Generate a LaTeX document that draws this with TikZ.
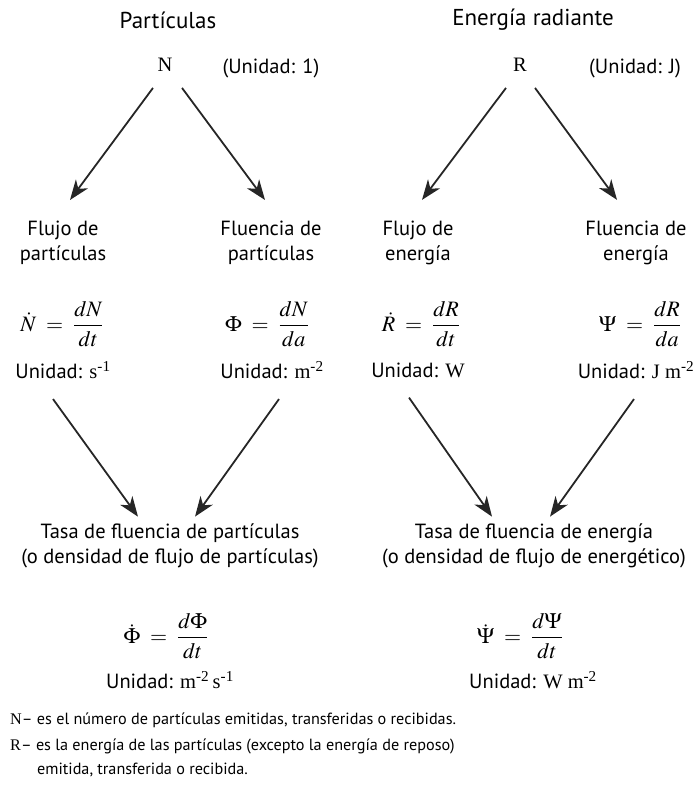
\documentclass[tikz,border=0pt]{standalone}
\usepackage{mathptmx}
\usepackage[no-math]{fontspec}
\setmainfont{PT Sans}
\newfontfamily\serifnr{Liberation Serif}
\usetikzlibrary{arrows.meta, positioning}

\newcommand{\uexp}[1]{\textsuperscript{\serifnr #1}}

\tikzset{
  texto/.style={font=\fontsize{20.5}{25}\selectfont, inner sep=0pt, align=center},
  titulo/.style={font=\fontsize{23}{27}\selectfont, inner sep=0pt},
  formula/.style={font=\fontsize{22}{26}\selectfont, inner sep=0pt},
  nota/.style={font=\fontsize{16.2}{25}\selectfont, inner sep=0pt, anchor=west},
  flecha/.style={-{Stealth[length=20pt,width=15pt,inset=6pt]}, line width=1.8pt, black!85}
}

\begin{document}
\begin{tikzpicture}[x=1pt,y=-1pt]
\useasboundingbox (0,0) rectangle (694,791);

% cabeceras
\node[titulo] (titP) at (168,20) {Partículas};
\node[titulo] (titE) at (533,20) {Energía radiante};
\node[texto] (N) at (165,65) {\serifnr N};
\node[texto] (uniN) at (271,68) {(Unidad: 1)};
\node[texto] (R) at (520,65) {\serifnr R};
\node[texto] (uniR) at (635,68) {(Unidad: J)};

% magnitudes
\node[texto] (flujoP) at (63,243) {Flujo de\\partículas};
\node[texto] (fluenP) at (271,243) {Fluencia de\\partículas};
\node[texto] (flujoE) at (418,243) {Flujo de\\energía};
\node[texto] (fluenE) at (636,243) {Fluencia de\\energía};

\node[formula] (eqN) at (62,324) {$\displaystyle \dot{N}\;=\;\frac{dN}{dt}$};
\node[formula] (eqPhi) at (267,324) {$\displaystyle \Phi\;=\;\frac{dN}{da}$};
\node[formula] (eqR) at (421,324) {$\displaystyle \dot{R}\;=\;\frac{dR}{dt}$};
\node[formula] (eqPsi) at (640,324) {$\displaystyle \Psi\;=\;\frac{dR}{da}$};

\node[texto] (uN) at (63,370) {Unidad: {\serifnr s}\uexp{-1}};
\node[texto] (uPhi) at (272,370) {Unidad: {\serifnr m}\uexp{-2}};
\node[texto] (uR) at (418,370) {Unidad: {\serifnr W}};
\node[texto] (uPsi) at (636,370) {Unidad: {\serifnr J m}\uexp{-2}};

% tasas
\node[texto] (tasaP) at (170,546) {Tasa de fluencia de partículas\\(o densidad de flujo de partículas)};
\node[texto] (tasaE) at (534,546) {Tasa de fluencia de energía\\(o densidad de flujo de energético)};

\node[formula] (eqPhid) at (166,636) {$\displaystyle \dot{\Phi}\;=\;\frac{d\Phi}{dt}$};
\node[formula] (eqPsid) at (520,636) {$\displaystyle \dot{\Psi}\;=\;\frac{d\Psi}{dt}$};
\node[texto] (uPhid) at (170,680) {Unidad: {\serifnr m}\uexp{-2}\,{\serifnr s}\uexp{-1}};
\node[texto] (uPsid) at (533,680) {Unidad: {\serifnr W m}\uexp{-2}};

% notas
\node[nota] (nota1) at (10,720) {{\serifnr N}– es el número de partículas emitidas, transferidas o recibidas.};
\node[nota] (nota2) at (10,746) {{\serifnr R}– es la energía de las partículas (excepto la energía de reposo)};
\node[nota] (nota3) at (37,770) {emitida, transferida o recibida.};

% flechas
\draw[flecha] ([xshift=-12pt,yshift=-16pt]N.south) -- ([xshift=7pt,yshift=21pt]flujoP.north);
\draw[flecha] ([xshift=17pt,yshift=-16pt]N.south) -- ([xshift=-6pt,yshift=21pt]fluenP.north);
\draw[flecha] ([xshift=-14pt,yshift=-16pt]R.south) -- ([xshift=4pt,yshift=21pt]flujoE.north);
\draw[flecha] ([xshift=15pt,yshift=-16pt]R.south) -- ([xshift=-19pt,yshift=21pt]fluenE.north);

\draw[flecha] ([xshift=-10pt,yshift=-20pt]uN.south) -- ([xshift=-32pt,yshift=7pt]tasaP.north);
\draw[flecha] ([xshift=7pt,yshift=-20pt]uPhi.south) -- ([xshift=25pt,yshift=7pt]tasaP.north);
\draw[flecha] ([xshift=-9pt,yshift=-20pt]uR.south) -- ([xshift=-42pt,yshift=7pt]tasaE.north);
\draw[flecha] ([xshift=-2pt,yshift=-20pt]uPsi.south) -- ([xshift=16pt,yshift=7pt]tasaE.north);
\end{tikzpicture}
\end{document}
